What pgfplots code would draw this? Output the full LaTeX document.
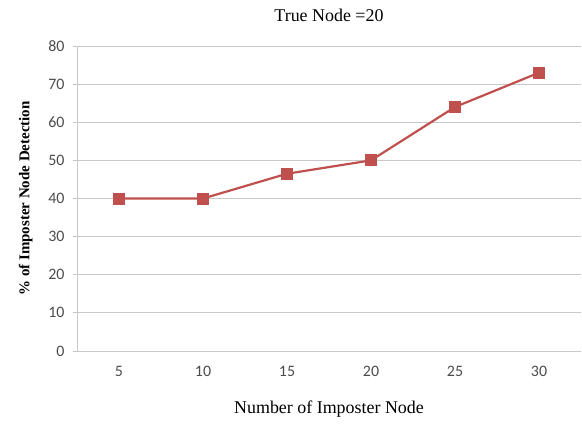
\documentclass[border=0pt]{standalone}
\usepackage{pgfplots}
\pgfplotsset{compat=1.18}
\usepackage{fontspec}
\setmainfont{Liberation Serif}
\newfontfamily\tickfont{Carlito}
\newcommand\tk[1]{{\tickfont\fontsize{16}{18}\selectfont #1}}
\definecolor{exred}{HTML}{C0504D}
\definecolor{gridc}{HTML}{C8C8C8}
\begin{document}
\begin{tikzpicture}[x=1bp,y=1bp]
  \useasboundingbox (0,0) rectangle (582,425);
  \begin{axis}[
      at={(77bp,74bp)}, anchor=south west,
      scale only axis, width=504bp, height=305bp,
      xmin=0, xmax=6, ymin=0, ymax=80,
      xtick={0.5,1.5,2.5,3.5,4.5,5.5},
      xticklabels={\tk{5},\tk{10},\tk{15},\tk{20},\tk{25},\tk{30}},
      ytick={0,10,...,80},
      yticklabel={\tk{\pgfmathprintnumber[assume math mode=true]{\tick}}},
      axis x line*=bottom, axis y line*=left,
      axis line style={draw=gridc, line width=0.8pt, -},
      ymajorgrids, grid style={draw=gridc, line width=0.8pt},
      major x tick style={draw=none},
      major y tick style={draw=gridc, line width=0.8pt},
      tick align=outside, major tick length=4bp,
      tick label style={text=black!70},
      xticklabel style={yshift=-8bp},
      yticklabel style={xshift=-5bp},
      xlabel={Number of Imposter Node},
      ylabel={\% of Imposter Node Detection},
      xlabel style={font=\fontsize{18}{20}\selectfont, yshift=-17bp},
      ylabel style={font=\bfseries\fontsize{15}{17}\selectfont, yshift=9bp},
      title={True Node =20},
      title style={font=\fontsize{18}{20}\selectfont, yshift=15bp},
    ]
    \addplot[color=exred, line width=2.2pt, mark=square*, mark size=5.5bp,
             mark options={fill=exred, draw=exred, line width=0pt}]
      coordinates {(0.5,40) (1.5,40) (2.5,46.5) (3.5,50) (4.5,64) (5.5,73)};
  \end{axis}
\end{tikzpicture}
\end{document}
